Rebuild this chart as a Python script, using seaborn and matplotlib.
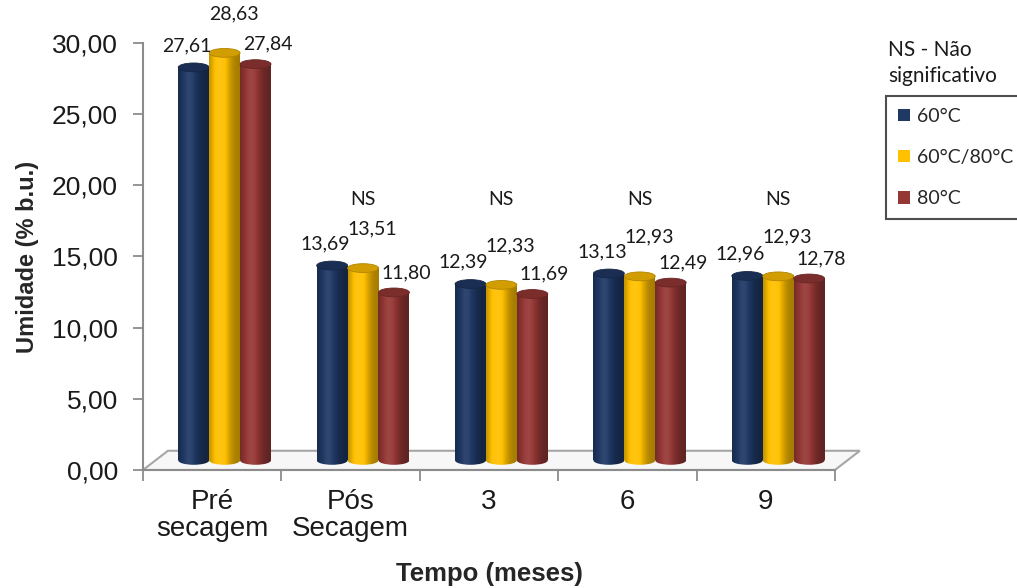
import numpy as np
import pandas as pd
import matplotlib
matplotlib.use("Agg")
import matplotlib.pyplot as plt
import seaborn as sns
from matplotlib.colors import to_rgb
from matplotlib.patches import Ellipse, Polygon, Patch
from matplotlib.ticker import FuncFormatter

# Moisture content (% wet basis) by storage time and drying temperature
tempos = ["Pré\nsecagem", "Pós\nSecagem", "3", "6", "9"]
tratamentos = ["60°C", "60°C/80°C", "80°C"]
umid_60 = [27.61, 13.69, 12.39, 13.13, 12.96]
umid_60_80 = [28.63, 13.51, 12.33, 12.93, 12.93]
umid_80 = [27.84, 11.80, 11.69, 12.49, 12.78]
significancia = ["", "NS", "NS", "NS", "NS"]

series = [umid_60, umid_60_80, umid_80]
cores = ["#1F3864", "#FFC000", "#953735"]

df = pd.DataFrame({
    "Tempo": np.tile(tempos, len(tratamentos)),
    "Tratamento": np.repeat(tratamentos, len(tempos)),
    "Umidade": np.concatenate(series),
})

sns.set_style("white")
plt.rcParams["font.family"] = ["Liberation Sans", "DejaVu Sans"]

fig = plt.figure(figsize=(10.17, 5.88), dpi=100)
ax = fig.add_axes([0.1406, 0.2007, 0.6804, 0.7262])

sns.barplot(data=df, x="Tempo", y="Umidade", hue="Tratamento",
            palette=cores, width=0.67, saturation=1, errorbar=None,
            legend=False, ax=ax)

ax.set_xlim(-0.5, 4.5)
ax.set_ylim(0, 30)

# pseudo-3D floor: bars stand at mid depth
floor_dx, floor_dy = 0.18, 1.35
mid_dx, mid_dy = floor_dx / 2, floor_dy / 2
floor = Polygon([(-0.5, 0), (4.5, 0), (4.5 + floor_dx, floor_dy),
                 (-0.5 + floor_dx, floor_dy)], closed=True,
                facecolor="#f7f7f7", edgecolor="#a6a6a6", lw=1.5,
                clip_on=False, zorder=0.5)
ax.add_patch(floor)

cap_h = 0.62  # ellipse height of cylinder ends (data units)


def shade(color, n=64):
    base = np.array(to_rgb(color))
    t = np.linspace(0, 1, n)
    f = 0.64 + 0.48 * np.exp(-((t - 0.36) / 0.32) ** 2)
    dark = np.minimum(f, 1.0)[:, None]
    light = np.maximum(f - 1.0, 0.0)[:, None]
    rgb = base[None, :] * dark + (1 - base[None, :]) * light * 0.6
    return np.clip(rgb, 0, 1)[None, :, :]


for i, (cont, cor) in enumerate(zip(ax.containers, cores)):
    grad = shade(cor)
    base = np.array(to_rgb(cor))
    z = 2 + 0.1 * i
    for j, bar in enumerate(cont.patches):
        bar.set_x(bar.get_x() + mid_dx)
        bar.set_y(bar.get_y() + mid_dy)
        bar.set_facecolor("none")
        bar.set_edgecolor("none")
        x0, y0 = bar.get_x(), bar.get_y()
        w, h = bar.get_width(), bar.get_height()
        cx = x0 + w / 2
        # cylinder body
        ax.imshow(grad, extent=(x0, x0 + w, y0, y0 + h), aspect="auto",
                  interpolation="bilinear", zorder=z)
        # rounded bottom
        bot = Ellipse((cx, y0), w, cap_h, facecolor="none", edgecolor="none")
        ax.add_patch(bot)
        im = ax.imshow(grad, extent=(x0, x0 + w, y0 - cap_h / 2, y0 + cap_h / 2),
                       aspect="auto", interpolation="bilinear", zorder=z)
        im.set_clip_path(bot)
        # top cap
        ax.add_patch(Ellipse((cx, y0 + h), w, cap_h,
                             facecolor=np.clip(base * 0.82, 0, 1),
                             edgecolor=np.clip(base * 0.7, 0, 1), lw=0.6,
                             zorder=z + 0.01))

# value labels above each cylinder
label_offsets = [(-7, 22), (9, 39), (12, 20)]  # pixel offsets per series
lbl_font = ["Lato", "DejaVu Sans"]
for i, (cont, vals) in enumerate(zip(ax.containers, series)):
    dxp, dyp = label_offsets[i]
    for bar, v in zip(cont.patches, vals):
        cx = bar.get_x() + bar.get_width() / 2
        top = bar.get_y() + bar.get_height()
        ax.annotate(f"{v:.2f}".replace(".", ","), (cx, top),
                    xytext=(dxp * 0.72, dyp * 0.72), textcoords="offset points",
                    ha="center", va="center", fontsize=14,
                    family=lbl_font, color="#1a1a1a", zorder=5)

# significance marks
for k, s in enumerate(significancia):
    if s:
        ax.text(k + mid_dx, 19.0, s, ha="center", va="center", fontsize=14,
                family=lbl_font, color="#1a1a1a")

# axes styling
for side in ("top", "right"):
    ax.spines[side].set_visible(False)
for side in ("left", "bottom"):
    ax.spines[side].set_color("#8c8c8c")
    ax.spines[side].set_linewidth(1.5)

ax.set_yticks(np.arange(0, 30.1, 5))
ax.yaxis.set_major_formatter(FuncFormatter(lambda v, p: f"{v:.2f}".replace(".", ",")))
ax.tick_params(axis="y", which="major", direction="out", length=7, width=1.3,
               color="#8c8c8c", labelsize=19, pad=11, left=True,
               labelcolor="#1a1a1a")

ax.set_xticks(range(len(tempos)))
ax.set_xticklabels(tempos, linespacing=1.05)
ax.set_xticks(np.arange(-0.5, len(tempos), 1.0), minor=True)
ax.tick_params(axis="x", which="major", length=0, labelsize=20, pad=14,
               labelcolor="#1a1a1a")
ax.tick_params(axis="x", which="minor", direction="out", length=8, width=1.3,
               color="#8c8c8c", bottom=True)

ax.set_xlabel("Tempo (meses)", fontsize=18.5, fontweight="bold", labelpad=14)
ax.set_ylabel("Umidade (% b.u.)", fontsize=17, fontweight="bold", labelpad=9)

# legend with the significance note above it
fig.text(888 / 1017, 1 - 40 / 588, "NS - Não\nsignificativo", ha="left", va="top",
         fontsize=15, family=lbl_font, color="#1a1a1a", linespacing=1.35)
handles = [Patch(facecolor=c, edgecolor="none") for c in cores]
leg = fig.legend(handles, tratamentos, loc="upper left",
                 bbox_to_anchor=(886 / 1017, 1 - 96 / 588),
                 bbox_transform=fig.transFigure, frameon=True, fancybox=False,
                 prop={"family": lbl_font, "size": 14},
                 handlelength=0.62, handleheight=0.62, handletextpad=0.35,
                 labelspacing=1.25, borderpad=0.6, borderaxespad=0)
leg.get_frame().set_edgecolor("#222222")
leg.get_frame().set_linewidth(1.5)

fig.savefig("out.png", dpi=100)
